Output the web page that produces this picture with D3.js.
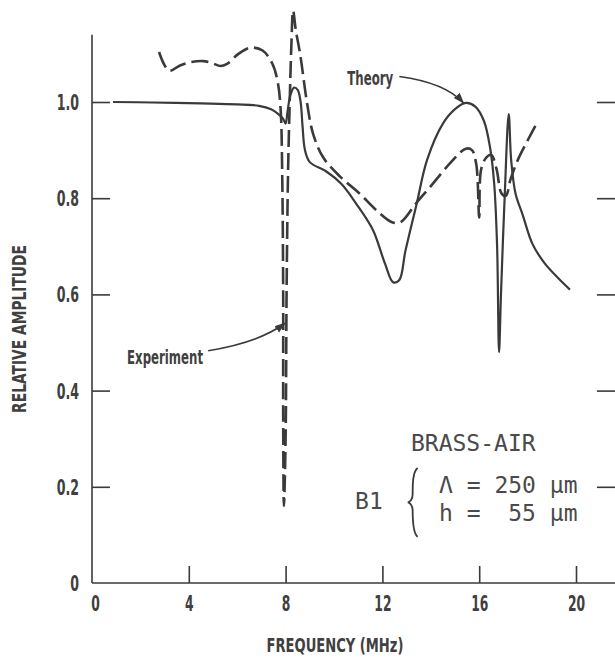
<!DOCTYPE html>
<html>
<head>
<meta charset="utf-8">
<script src="https://cdn.jsdelivr.net/npm/d3@7"></script>
<style>
  body { margin: 0; background: #fff; }
  .cond { font-family: "DejaVu Sans", "Liberation Sans", sans-serif; font-weight: bold; fill: #404040; }
  .mono { font-family: "DejaVu Sans Mono", "Liberation Mono", monospace; fill: #4a4a4a; white-space: pre; }
</style>
</head>
<body>
<div id="chart"></div>
<script>
// axis ticks
const xTicks = [0, 4, 8, 12, 16, 20]
const yTicks = [0, 0.2, 0.4, 0.6, 0.8, 1.0]
const yTickLabels = ["0", "0.2", "0.4", "0.6", "0.8", "1.0"]

// frequency (MHz), relative amplitude
const theoryFreq = [0.87, 2.5, 4.5, 6.0, 6.9, 7.4, 7.7, 7.9, 8.0, 8.08, 8.2, 8.35, 8.5, 8.62, 8.7, 8.8, 9.0, 9.7,
  10.3, 10.9, 11.6, 12.1, 12.45, 12.7, 12.95, 13.4, 13.85, 14.5, 15.0, 15.45, 15.85, 16.2, 16.45, 16.62,
  16.74, 16.82, 16.9, 17.05, 17.22, 17.32, 17.5, 17.8, 18.2, 18.7, 19.3, 19.75]
const theoryAmp = [1.0, 0.999, 0.997, 0.995, 0.992, 0.985, 0.975, 0.965, 0.955, 0.98, 1.015, 1.03, 1.025, 1.0, 0.95, 0.9, 0.875, 0.855,
  0.83, 0.79, 0.735, 0.665, 0.625, 0.63, 0.69, 0.785, 0.88, 0.955, 0.985, 0.998, 0.99, 0.96, 0.905, 0.83,
  0.7, 0.48, 0.6, 0.8, 0.975, 0.88, 0.81, 0.765, 0.705, 0.665, 0.632, 0.61]

const experimentFreq = [2.77, 3.18, 3.6, 4.0, 4.6, 5.0, 5.3, 5.6, 6.05, 6.55, 7.05, 7.45, 7.68, 7.8, 7.86, 7.9, 7.9, 7.93,
  8.0, 8.04, 8.1, 8.17, 8.24, 8.31, 8.42, 8.6, 8.88, 9.13, 9.55, 10.25, 11.05, 11.75, 12.4, 12.75, 13.4,
  14.0, 14.8, 15.45, 15.7, 15.88, 16.0, 16.08, 16.3, 16.5, 16.72, 16.92, 17.1, 17.3, 17.6, 18.0, 18.4]
const experimentAmp = [1.104, 1.065, 1.075, 1.082, 1.085, 1.08, 1.075, 1.08, 1.1, 1.113, 1.107, 1.08, 1.04, 0.98, 0.85, 0.6, 0.35, 0.16,
  0.3, 0.6, 0.85, 1.0, 1.12, 1.19, 1.15, 1.1, 1.0, 0.935, 0.885, 0.845, 0.81, 0.775, 0.75, 0.75, 0.79,
  0.825, 0.873, 0.903, 0.9, 0.87, 0.76, 0.86, 0.885, 0.89, 0.86, 0.81, 0.805, 0.84, 0.88, 0.92, 0.958]

const width = 615
const height = 662

const svg = d3.select("#chart")
    .append("svg")
    .attr("width", width)
    .attr("height", height)

// scales
const x = d3.scaleLinear().domain([0, 20]).range([92, 576])
const y = d3.scaleLinear().domain([0, 1]).range([583, 102])

const ink = "#3a3a3a"

// the original lettering is a tall condensed face: squash a normal one
function squeeze(sel, s) {
  sel.each(function () {
    const t = d3.select(this)
    const x0 = +t.attr("x") || 0
    t.attr("x", x0 / s).attr("transform", `scale(${s},1)`)
  })
}
function fitWidth(sel, target) {
  const w = sel.node().getComputedTextLength()
  squeeze(sel, target / w)
}

// left axis
const yAxis = svg.append("g")
    .attr("transform", `translate(${x(0)}, 0)`)
    .call(d3.axisLeft(y).tickValues(yTicks).tickSize(-18).tickPadding(13)
      .tickFormat((d, i) => yTickLabels[i]))
yAxis.select(".domain").remove()
yAxis.append("line")
    .attr("y1", y(0)).attr("y2", y(1.14))
    .attr("stroke", ink).attr("stroke-width", 1.6)
yAxis.selectAll(".tick line").attr("stroke", ink).attr("stroke-width", 1.6)
    .filter(d => d === 0).remove()
yAxis.selectAll(".tick text").attr("class", "cond").attr("font-size", 21).attr("dy", "0.36em")
    .call(squeeze, 0.6)

// right axis, mostly outside the picture
const yRight = svg.append("g")
    .attr("transform", `translate(${x(21.65)}, 0)`)
    .call(d3.axisRight(y).tickValues(yTicks.slice(1)).tickSize(-19).tickFormat(""))
yRight.select(".domain").remove()
yRight.selectAll(".tick line").attr("stroke", ink).attr("stroke-width", 1.6)

// bottom axis
const xAxis = svg.append("g")
    .attr("transform", `translate(0, ${y(0)})`)
    .call(d3.axisBottom(x).tickValues(xTicks).tickSize(0).tickPadding(12))
xAxis.select(".domain").remove()
xAxis.append("line")
    .attr("x1", x(0)).attr("x2", width)
    .attr("stroke", ink).attr("stroke-width", 1.6)
xAxis.selectAll(".tick").filter(d => d > 0).append("line")
    .attr("y2", -17).attr("stroke", ink).attr("stroke-width", 1.6)
xAxis.selectAll(".tick text").attr("class", "cond").attr("font-size", 22)
    .attr("x", d => d === 0 ? 3 : 0)
    .call(squeeze, 0.56)

// axis titles
const yTitle = svg.append("g")
    .attr("transform", `translate(26, 329) rotate(-90)`)
  .append("text")
    .attr("class", "cond")
    .attr("font-size", 20)
    .attr("text-anchor", "middle")
    .text("RELATIVE AMPLITUDE")
fitWidth(yTitle, 168)

const xTitle = svg.append("text")
    .attr("class", "cond")
    .attr("font-size", 20)
    .attr("text-anchor", "middle")
    .attr("x", 335).attr("y", 652)
    .text("FREQUENCY (MHz)")
fitWidth(xTitle, 137)

// curves
const line = d3.line()
    .x(d => x(d[0]))
    .y(d => y(d[1]))
    .curve(d3.curveCatmullRom.alpha(0.5))

svg.append("path")
    .datum(d3.zip(theoryFreq, theoryAmp))
    .attr("d", line)
    .attr("fill", "none")
    .attr("stroke", ink)
    .attr("stroke-width", 2.2)
    .attr("stroke-linejoin", "round")

svg.append("path")
    .datum(d3.zip(experimentFreq, experimentAmp))
    .attr("d", line)
    .attr("fill", "none")
    .attr("stroke", ink)
    .attr("stroke-width", 2.6)
    .attr("stroke-dasharray", "17,6")

// annotations with curved arrows
svg.append("defs").append("marker")
    .attr("id", "head")
    .attr("viewBox", "0 0 10 10")
    .attr("refX", 9).attr("refY", 5)
    .attr("markerWidth", 7).attr("markerHeight", 7)
    .attr("orient", "auto")
  .append("path")
    .attr("d", "M0,1.5 L10,5 L0,8.5 Z")
    .attr("fill", ink)

function note(label, w, tx, ty, from, via, to) {
  const t = svg.append("text")
      .attr("class", "cond")
      .attr("font-size", 19)
      .attr("x", x(tx)).attr("y", y(ty))
      .text(label)
  fitWidth(t, w)
  svg.append("path")
      .attr("d", `M${x(from[0])},${y(from[1])} Q${x(via[0])},${y(via[1])} ${x(to[0])},${y(to[1])}`)
      .attr("fill", "none")
      .attr("stroke", ink)
      .attr("stroke-width", 1.6)
      .attr("marker-end", "url(#head)")
}

note("Theory", 46, 10.55, 1.035, [12.7, 1.053], [14.6, 1.04], [15.35, 0.998])
note("Experiment", 76, 1.45, 0.455, [4.8, 0.483], [6.9, 0.5], [7.97, 0.54])

// specimen label
svg.append("text").attr("class", "mono").attr("font-size", 23)
    .attr("x", x(13.18)).attr("y", y(0.274)).text("BRASS-AIR")
svg.append("text").attr("class", "mono").attr("font-size", 23)
    .attr("x", x(10.87)).attr("y", y(0.154)).text("B1")
svg.append("text").attr("class", "mono").attr("font-size", 23)
    .attr("x", x(14.34)).attr("y", y(0.187)).text("\u039B = 250 \u00B5m")
svg.append("text").attr("class", "mono").attr("font-size", 23)
    .attr("x", x(14.34)).attr("y", y(0.129)).text("h =  55 \u00B5m")

// curly brace
const bx = x(13.25), bt = y(0.239), bb = y(0.096), bm = (bt + bb) / 2
svg.append("path")
    .attr("d", `M${bx + 5},${bt} C${bx},${bt + 4} ${bx},${bm - 18} ${bx},${bm - 8}
      C${bx},${bm - 3} ${bx - 3},${bm} ${bx - 5},${bm}
      C${bx - 3},${bm} ${bx},${bm + 3} ${bx},${bm + 8}
      C${bx},${bb - 18} ${bx},${bb - 4} ${bx + 5},${bb}`)
    .attr("fill", "none")
    .attr("stroke", ink)
    .attr("stroke-width", 1.8)
</script>
</body>
</html>
